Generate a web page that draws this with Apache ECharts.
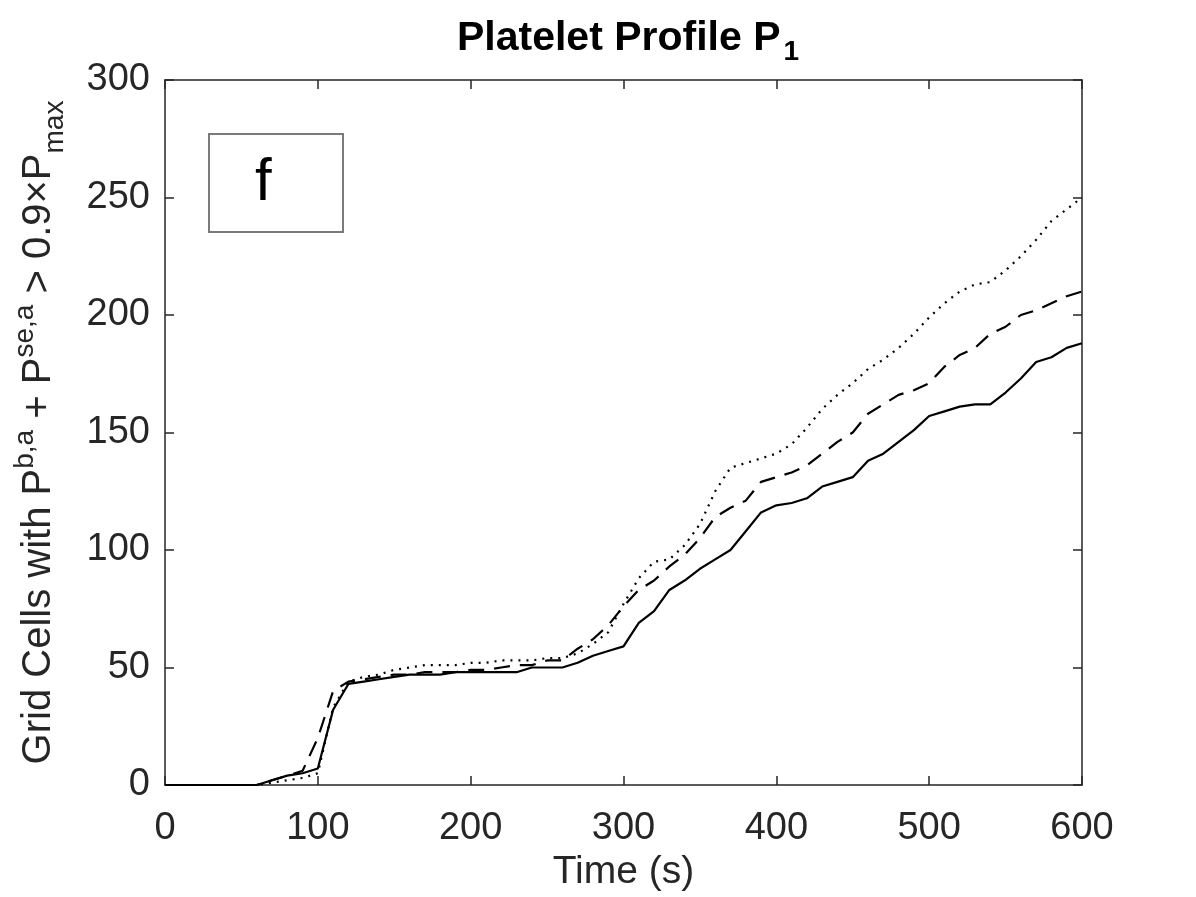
<!DOCTYPE html>
<html>
<head>
<meta charset="utf-8">
<script src="https://cdn.jsdelivr.net/npm/echarts@6/dist/echarts.min.js"></script>
<style>
html,body{margin:0;padding:0;background:#fff;}
#c{width:1196px;height:897px;}
</style>
</head>
<body>
<div id="c"></div>
<script>
var times = [0,10,20,30,40,50,60,70,80,90,100,110,120,130,140,150,160,170,180,190,200,210,220,230,240,250,260,270,280,290,300,310,320,330,340,350,360,370,380,390,400,410,420,430,440,450,460,470,480,490,500,510,520,530,540,550,560,570,580,590,600];
var solidVals = [0,0,0,0,0,0,0,2,4,5,7,32,43,44,45,46,47,47,47,48,48,48,48,48,50,50,50,52,55,57,59,69,74,83,87,92,96,100,108,116,119,120,122,127,129,131,138,141,146,151,157,159,161,162,162,167,173,180,182,186,188];
var dashedVals = [0,0,0,0,0,0,0,2,4,6,20,40,44,45,46,47,47,48,48,48,49,49,50,51,51,53,53,58,62,68,76,83,87,93,98,105,114,118,121,129,131,133,136,141,146,150,158,162,166,168,171,178,183,186,192,195,200,202,205,208,210];
var dottedVals = [0,0,0,0,0,0,0,1,2,3,5,33,44,46,47,49,50,51,51,51,52,52,53,53,53,54,54,56,60,65,77,88,95,96,102,111,125,135,137,139,141,145,152,160,166,171,177,181,186,192,199,205,210,213,214,219,225,232,240,245,250];
var xTicks = [0,100,200,300,400,500,600];
var yTicks = [0,50,100,150,200,250,300];

function pairs(v){ return times.map(function(t,i){ return [t, v[i]]; }); }

var chart = echarts.init(document.getElementById('c'), null, {renderer:'canvas'});
var font = 'Liberation Sans, Arial, Helvetica, sans-serif';
var axCol = '#262626';
var tickLabel = {fontSize:38, color:axCol, fontFamily:font};

var option = {
  backgroundColor:'#fff',
  animation:false,
  title:{
    text:'{b|Platelet Profile P}{s|1}',
    left:623, top:6, textAlign:'center',
    textStyle:{
      rich:{
        b:{fontSize:41, fontWeight:'bold', color:'#000', fontFamily:font, lineHeight:56},
        s:{fontSize:28, fontWeight:'bold', color:'#000', fontFamily:font, lineHeight:56, padding:[26,0,0,3]}
      }
    }
  },
  grid:{left:165, right:114, top:80, bottom:111, containLabel:false},
  xAxis:[{
    type:'value', min:0, max:600, interval:100, position:'bottom',
    name:'Time (s)', nameLocation:'middle', nameGap:68,
    nameTextStyle:{fontSize:39, color:axCol, fontFamily:font},
    axisLine:{show:true, onZero:false, lineStyle:{color:axCol, width:1.5}},
    axisTick:{show:true, inside:true, length:9, lineStyle:{color:axCol, width:1.5}},
    axisLabel:Object.assign({margin:25, formatter:function(v){return xTicks.indexOf(v)>=0?String(v):'';}}, tickLabel),
    splitLine:{show:false}
  },{
    type:'value', min:0, max:600, interval:100, position:'top',
    axisLine:{show:true, onZero:false, lineStyle:{color:axCol, width:1.5}},
    axisTick:{show:true, inside:true, length:9, lineStyle:{color:axCol, width:1.5}},
    axisLabel:{show:false}, splitLine:{show:false}
  }],
  yAxis:[{
    type:'value', min:0, max:300, interval:50, position:'left',
    name:'{n|Grid Cells with P}{p|b,a}{n| + P}{p|se,a}{n| > 0.9×P}{d|max}',
    nameLocation:'middle', nameGap:106, nameRotate:90,
    nameTextStyle:{
      padding:[0,0,0,0],
      rich:{
        n:{fontSize:40, color:axCol, fontFamily:font, lineHeight:56, verticalAlign:'bottom'},
        p:{fontSize:28, color:axCol, fontFamily:font, lineHeight:56, verticalAlign:'bottom', padding:[0,0,20,0]},
        d:{fontSize:28, color:axCol, fontFamily:font, lineHeight:56, verticalAlign:'bottom', padding:[0,0,-10,0]}
      }
    },
    axisLine:{show:true, onZero:false, lineStyle:{color:axCol, width:1.5}},
    axisTick:{show:true, inside:true, length:9, lineStyle:{color:axCol, width:1.5}},
    axisLabel:Object.assign({margin:15, formatter:function(v){return yTicks.indexOf(v)>=0?String(v):'';}}, tickLabel),
    splitLine:{show:false}
  },{
    type:'value', min:0, max:300, interval:50, position:'right',
    axisLine:{show:true, onZero:false, lineStyle:{color:axCol, width:1.5}},
    axisTick:{show:true, inside:true, length:9, lineStyle:{color:axCol, width:1.5}},
    axisLabel:{show:false}, splitLine:{show:false}
  }],
  graphic:[
    {type:'rect', left:208, top:133, shape:{width:134, height:98},
     style:{fill:'#fff', stroke:'#7a7a7a', lineWidth:2}, z:100},
    {type:'text', left:255, top:153, style:{text:'f', fontSize:60, fill:'#000', fontFamily:font}, z:101}
  ],
  series:[
    {type:'line', name:'solid', data:pairs(solidVals), showSymbol:false, symbol:'none',
     lineStyle:{color:'#000', width:2.2, type:'solid'}},
    {type:'line', name:'dashed', data:pairs(dashedVals), showSymbol:false, symbol:'none',
     lineStyle:{color:'#000', width:2.2, type:[16,10]}},
    {type:'line', name:'dotted', data:pairs(dottedVals), showSymbol:false, symbol:'none',
     lineStyle:{color:'#000', width:2.2, type:[2,6]}}
  ]
};
chart.setOption(option);
</script>
</body>
</html>
